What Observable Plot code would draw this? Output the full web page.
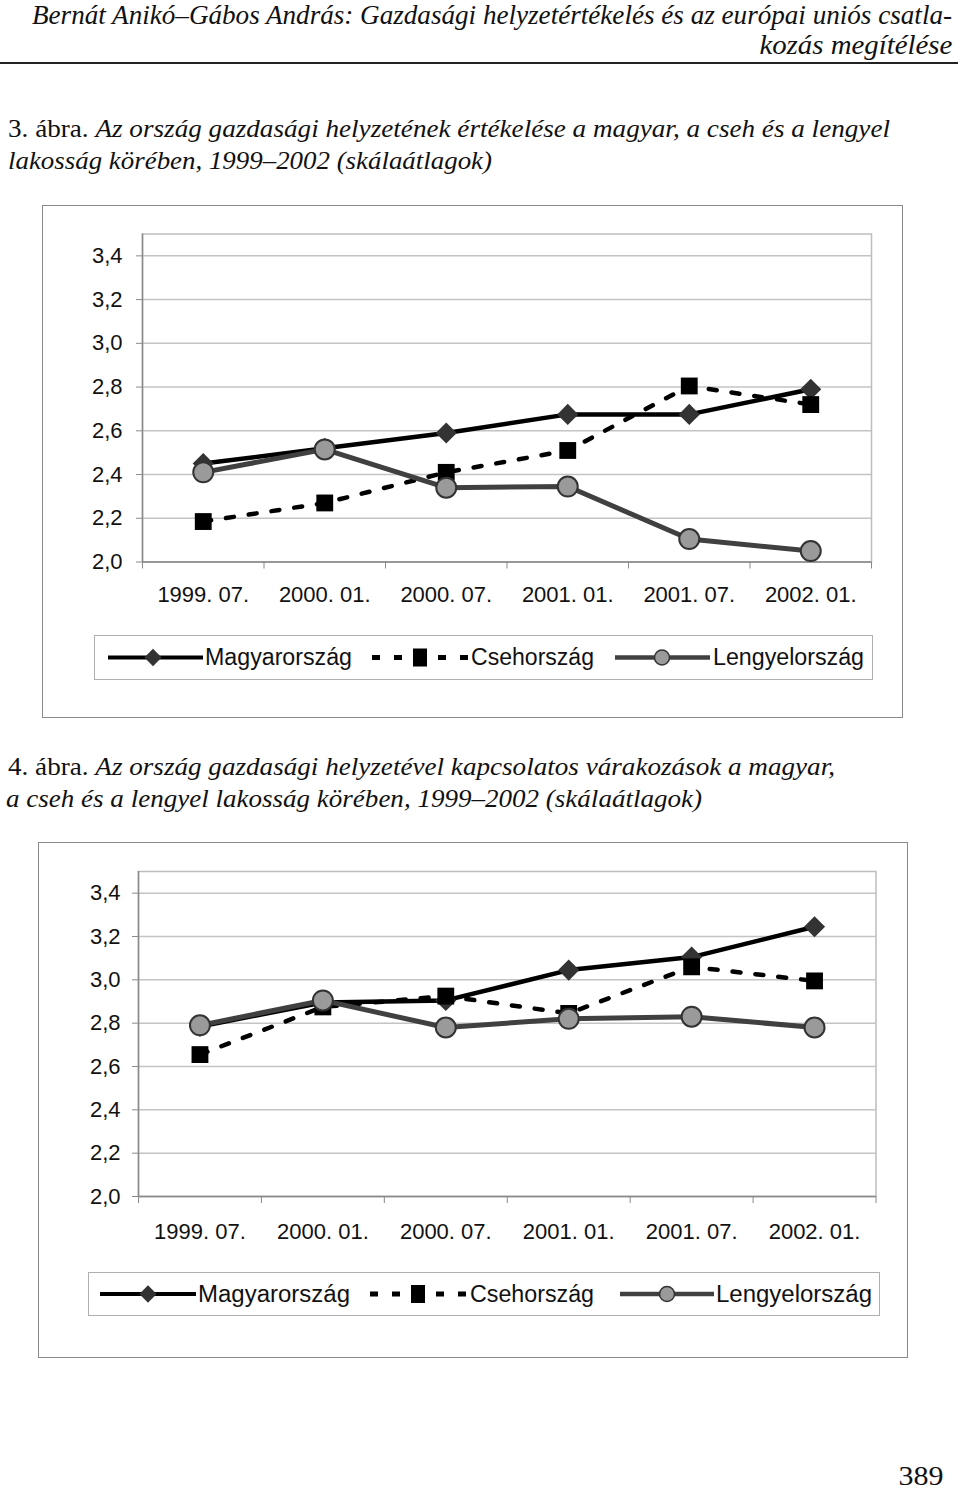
<!DOCTYPE html>
<html><head><meta charset="utf-8">
<script src="https://cdn.jsdelivr.net/npm/d3@7"></script>
<script src="https://cdn.jsdelivr.net/npm/@observablehq/plot@0.6"></script>
<style>
body{margin:0;background:#fff;}
#page{position:relative;width:960px;height:1492px;overflow:hidden;background:#fff;}
.t{position:absolute;white-space:nowrap;}
.t .in{display:inline-block;}
.serif{font-family:"Liberation Serif","Times New Roman",serif;color:#111;}
.sans{font-family:"Liberation Sans",Arial,sans-serif;color:#111;}
.box{position:absolute;border:1.5px solid #8a8a8a;box-sizing:border-box;background:#fff;}
.lbox{position:absolute;border:1.5px solid #b0b0b0;box-sizing:border-box;background:#fff;}
.abs{position:absolute;}
</style></head><body><div id="page"></div>
<script>
// ---- data ----
const periods = ["1999. 07.", "2000. 01.", "2000. 07.", "2001. 01.", "2001. 07.", "2002. 01."];
const seriesNames = ["Magyarország", "Csehország", "Lengyelország"];
const yTicks = [2.0, 2.2, 2.4, 2.6, 2.8, 3.0, 3.2, 3.4];
// 3. ábra – értékelés
const hu3 = [2.45, 2.52, 2.59, 2.675, 2.675, 2.79];
const cz3 = [2.185, 2.27, 2.41, 2.51, 2.805, 2.72];
const pl3 = [2.41, 2.515, 2.34, 2.345, 2.105, 2.05];
// 4. ábra – várakozások
const hu4 = [2.785, 2.895, 2.905, 3.045, 3.105, 3.245];
const cz4 = [2.655, 2.875, 2.925, 2.845, 3.06, 2.995];
const pl4 = [2.79, 2.905, 2.78, 2.82, 2.83, 2.78];
// texts
const header1 = "Bernát Anikó–Gábos András: Gazdasági helyzetértékelés és az európai uniós csatla-";
const header2 = "kozás megítélése";
const fig3label = "3. ábra.";
const fig3a = "Az ország gazdasági helyzetének értékelése a magyar, a cseh és a lengyel";
const fig3b = "lakosság körében, 1999–2002 (skálaátlagok)";
const fig4label = "4. ábra.";
const fig4a = "Az ország gazdasági helyzetével kapcsolatos várakozások a magyar,";
const fig4b = "a cseh és a lengyel lakosság körében, 1999–2002 (skálaátlagok)";
const pageNo = "389";

const page = document.getElementById("page");

function put(nodes, {x, cy, w, fs, cls, align = "left"}) {
  const d = document.createElement("div");
  d.className = "t " + cls;
  d.style.fontSize = fs + "px";
  d.style.lineHeight = fs + "px";
  d.style.top = (cy - fs / 2) + "px";
  const s = document.createElement("span");
  s.className = "in";
  nodes.forEach(n => s.appendChild(n));
  d.appendChild(s);
  page.appendChild(d);
  const nat = s.getBoundingClientRect().width;
  const k = w ? w / nat : 1;
  s.style.transform = `scaleX(${k})`;
  if (align === "left") { d.style.left = x + "px"; s.style.transformOrigin = "0 0"; }
  else { d.style.left = (x - nat) + "px"; s.style.transformOrigin = "100% 0"; }
}
const tx = s => document.createTextNode(s);
const it = s => { const e = document.createElement("i"); e.textContent = s; return e; };

// header
put([it(header1)], {x: 32, cy: 15, w: 920, fs: 28, cls: "serif"});
put([it(header2)], {x: 952, cy: 45, w: 193, fs: 28, cls: "serif", align: "right"});
const rule = document.createElement("div");
rule.className = "abs";
Object.assign(rule.style, {left: "0px", top: "62px", width: "958px", height: "2px", background: "#222"});
page.appendChild(rule);

// captions
put([tx(fig3label + " "), it(fig3a)], {x: 8, cy: 129, w: 882, fs: 26, cls: "serif"});
put([it(fig3b)], {x: 8, cy: 161, w: 484, fs: 26, cls: "serif"});
put([tx(fig4label + " "), it(fig4a)], {x: 8, cy: 767, w: 827, fs: 26, cls: "serif"});
put([it(fig4b)], {x: 6, cy: 799, w: 696, fs: 26, cls: "serif"});
put([tx(pageNo)], {x: 943, cy: 1476, w: 45, fs: 27, cls: "serif", align: "right"});

function chart(vals, {width, height, mt, mb, ml, mr, yPad, xPad}) {
  const data = [];
  seriesNames.forEach((s, si) => vals[si].forEach((v, i) =>
    data.push({series: s, idx: i + 0.5, period: periods[i], value: v})));
  const byS = s => data.filter(d => d.series === s);
  return Plot.plot({
    width, height, marginTop: mt, marginBottom: mb, marginLeft: ml, marginRight: mr,
    style: {fontFamily: "'Liberation Sans', Arial, sans-serif", fontSize: "22px", color: "#111", background: "transparent", overflow: "visible"},
    x: {type: "linear", domain: [0, periods.length]},
    y: {domain: [2.0, 3.5]},
    marks: [
      Plot.gridY(yTicks, {stroke: "#c4c4c4", strokeOpacity: 1, strokeWidth: 1.5}),
      Plot.frame({stroke: "#bdbdbd", strokeWidth: 1.5}),
      Plot.ruleX([0], {stroke: "#8a8a8a", strokeWidth: 1.5}),
      Plot.ruleY([2.0], {stroke: "#8a8a8a", strokeWidth: 1.5}),
      Plot.axisY(yTicks, {tickFormat: d => d.toFixed(1).replace(".", ","), tickSize: 6, tickPadding: yPad, stroke: "#8a8a8a", fill: "#111", fontSize: 22, label: null}),
      Plot.axisX(d3.range(periods.length + 1), {tickFormat: () => "", tickSize: 7, stroke: "#8a8a8a", label: null}),
      Plot.axisX(periods.map((p, i) => i + 0.5), {tickFormat: i => periods[Math.floor(i)], tickSize: 0, tickPadding: xPad, fill: "#111", fontSize: 22, label: null}),
      Plot.line(byS("Magyarország"), {x: "idx", y: "value", stroke: "#000", strokeWidth: 4.5}),
      Plot.dot(byS("Magyarország"), {x: "idx", y: "value", symbol: "diamond2", r: 9.5, fill: "#333", stroke: "none"}),
      Plot.line(byS("Csehország"), {x: "idx", y: "value", stroke: "#000", strokeWidth: 4.5, strokeDasharray: "8,15"}),
      Plot.dot(byS("Csehország"), {x: "idx", y: "value", symbol: "square", r: 9.5, fill: "#000", stroke: "none"}),
      Plot.line(byS("Lengyelország"), {x: "idx", y: "value", stroke: "#404040", strokeWidth: 5}),
      Plot.dot(byS("Lengyelország"), {x: "idx", y: "value", symbol: "circle", r: 10, fill: "#9a9a9a", stroke: "#333", strokeWidth: 2})
    ]
  });
}

function panel({left, top, w, h, vals, opts, leg}) {
  const b = document.createElement("div");
  b.className = "box";
  Object.assign(b.style, {left: left + "px", top: top + "px", width: w + "px", height: h + "px"});
  page.appendChild(b);
  const holder = document.createElement("div");
  holder.className = "abs";
  Object.assign(holder.style, {left: left + "px", top: top + "px"});
  holder.appendChild(chart(vals, {width: w, ...opts}));
  page.appendChild(holder);
  // legend
  const lb = document.createElement("div");
  lb.className = "lbox";
  Object.assign(lb.style, {left: leg.left + "px", top: leg.top + "px", width: leg.w + "px", height: leg.h + "px"});
  page.appendChild(lb);
  const svg = d3.create("svg").attr("width", leg.w).attr("height", leg.h)
    .style("position", "absolute").style("left", leg.left + "px").style("top", leg.top + "px");
  const cy = leg.h / 2;
  leg.items.forEach((item, k) => {
    const g = svg.append("g");
    if (k === 0) {
      g.append("line").attr("x1", item.x0).attr("x2", item.x1).attr("y1", cy).attr("y2", cy).attr("stroke", "#000").attr("stroke-width", 4);
      g.append("path").attr("d", d3.symbol(d3.symbolDiamond2, 190)()).attr("transform", `translate(${item.mx},${cy})`).attr("fill", "#333");
    } else if (k === 1) {
      g.append("line").attr("x1", item.x0).attr("x2", item.x1).attr("y1", cy).attr("y2", cy).attr("stroke", "#000").attr("stroke-width", 5).attr("stroke-dasharray", "8,14");
      g.append("rect").attr("x", item.mx - 7).attr("y", cy - 9).attr("width", 14).attr("height", 18).attr("fill", "#000");
    } else {
      g.append("line").attr("x1", item.x0).attr("x2", item.x1).attr("y1", cy).attr("y2", cy).attr("stroke", "#404040").attr("stroke-width", 4.5);
      g.append("circle").attr("cx", item.mx).attr("cy", cy).attr("r", 7.5).attr("fill", "#9a9a9a").attr("stroke", "#333").attr("stroke-width", 1.5);
    }
  });
  page.appendChild(svg.node());
  leg.items.forEach((item, k) => {
    put([tx(seriesNames[k])], {x: leg.left + item.tx, cy: leg.top + cy, w: item.tw, fs: 23, cls: "sans"});
  });
}

panel({left: 42, top: 205, w: 861, h: 513, vals: [hu3, cz3, pl3],
  opts: {height: 410, mt: 28.5, mb: 53.5, ml: 100, mr: 32, yPad: 14, xPad: 24},
  leg: {left: 94, top: 635, w: 779, h: 45, items: [
    {x0: 14, x1: 109, mx: 59, tx: 111, tw: 147},
    {x0: 278, x1: 374, mx: 326, tx: 377, tw: 123},
    {x0: 521, x1: 616, mx: 568, tx: 619, tw: 151}]}});

panel({left: 38, top: 842, w: 870, h: 516, vals: [hu4, cz4, pl4],
  opts: {height: 410, mt: 29, mb: 56, ml: 100, mr: 32.5, yPad: 12, xPad: 27},
  leg: {left: 88, top: 1272, w: 792, h: 44, items: [
    {x0: 12, x1: 108, mx: 60, tx: 110, tw: 152},
    {x0: 282, x1: 379, mx: 330, tx: 382, tw: 124},
    {x0: 532, x1: 626, mx: 579, tx: 628, tw: 156}]}});
</script>
</body></html>
